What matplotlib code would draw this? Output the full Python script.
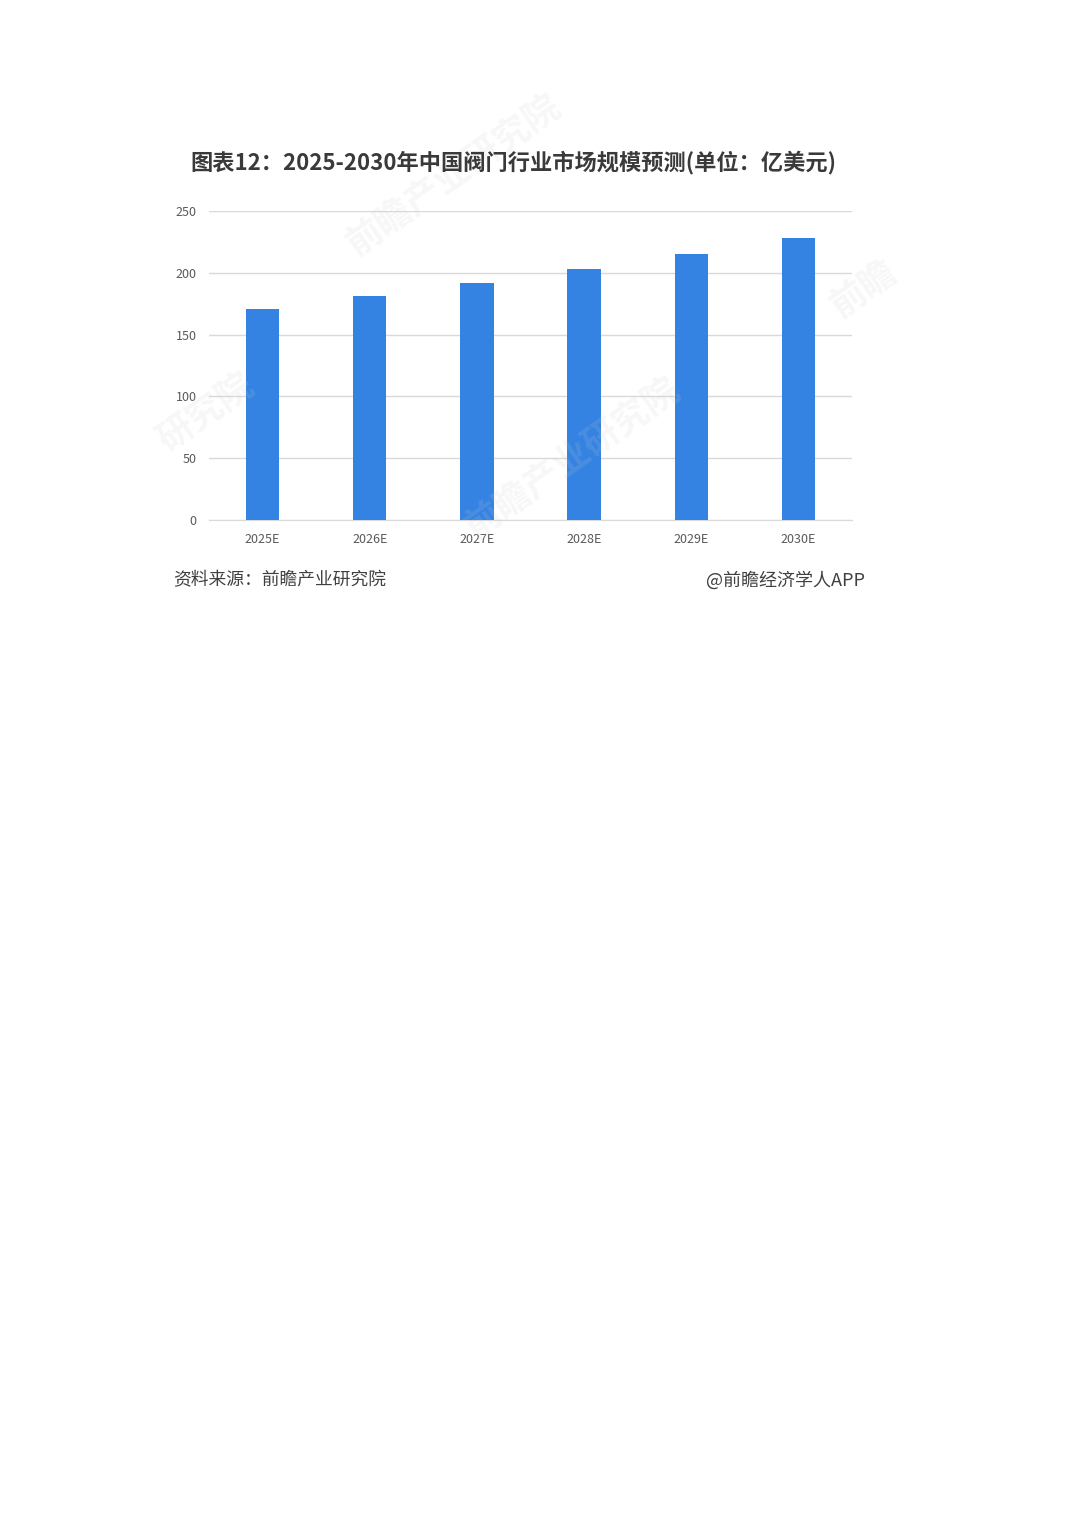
import matplotlib.pyplot as plt

plt.rcParams['font.family'] = ['Noto Sans CJK SC', 'DejaVu Sans']

# 数据
years = ['2025E', '2026E', '2027E', '2028E', '2029E', '2030E']
market_size = [171, 181, 192, 203, 215, 228]  # 亿美元
y_ticks = [0, 50, 100, 150, 200, 250]

W, H = 1080, 1528
fig = plt.figure(figsize=(W / 100, H / 100), dpi=100)
fig.patch.set_facecolor('white')

# 坐标区域按像素位置放置
left, right, bottom, top = 209, 852, 520, 211
ax = fig.add_axes([left / W, 1 - bottom / H, (right - left) / W, (bottom - top) / H])

x = range(len(years))
ax.bar(x, market_size, width=0.31, color='#3483E3', zorder=3)

ax.set_xlim(-0.5, len(years) - 0.5)
ax.set_ylim(0, 250)
ax.set_yticks(y_ticks)
ax.set_xticks(list(x))
ax.set_xticklabels(years)
ax.tick_params(axis='both', length=0, labelsize=9, colors='#595959')
ax.tick_params(axis='x', pad=9)
ax.tick_params(axis='y', pad=9)
ax.grid(axis='y', color='#d9d9d9', linewidth=1, zorder=0)
for side in ['top', 'right', 'left']:
    ax.spines[side].set_visible(False)
ax.spines['bottom'].set_color('#d9d9d9')

# 水印
for (wx, wy, s) in [(0.42, 0.885, '前瞻产业研究院'), (0.19, 0.73, '研究院'),
                    (0.53, 0.70, '前瞻产业研究院'), (0.80, 0.81, '前瞻')]:
    fig.text(wx, wy, s, fontsize=26, color='#cccccc', alpha=0.15,
             rotation=35, ha='center', va='center', fontweight='bold')

# 标题与脚注
fig.text(513 / W, 1 - 162 / H, '图表12：2025-2030年中国阀门行业市场规模预测(单位：亿美元)',
         fontsize=16, fontweight='bold', color='#3a3a3a', ha='center', va='center')
fig.text(173 / W, 1 - 580 / H, '资料来源：前瞻产业研究院',
         fontsize=12.8, color='#404040', ha='left', va='center')
fig.text(865 / W, 1 - 580 / H, '@前瞻经济学人APP',
         fontsize=13, color='#404040', ha='right', va='center')

fig.savefig('out.png', dpi=100)
